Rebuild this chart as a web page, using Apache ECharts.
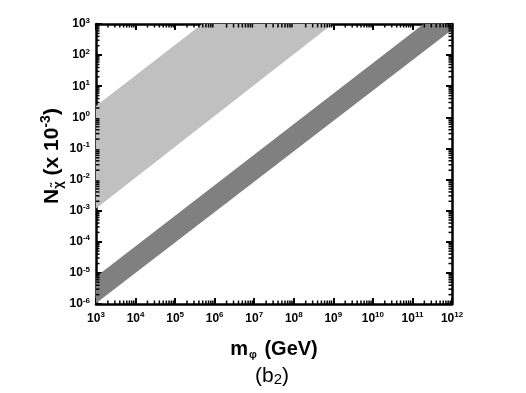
<!DOCTYPE html>
<html>
<head>
<meta charset="utf-8">
<script src="https://cdn.jsdelivr.net/npm/echarts@6/dist/echarts.min.js"></script>
<style>html,body{margin:0;padding:0;background:#fff}#c{width:526px;height:393px}</style>
</head>
<body>
<div id="c"></div>
<script>
// Axis ranges (log scale)
const xRange = [1e3, 1e12];
const yRange = [1e-6, 1e3];
// Tick label exponents
const xTickExponents = [3, 4, 5, 6, 7, 8, 9, 10, 11, 12];
const yTickExponents = [-6, -5, -4, -3, -2, -1, 0, 1, 2, 3];
// Band edges [m_phi (GeV), N (x 10^-3)]
const lightBandLower = [[1e3, 1.18e-3], [9.5e8, 1e3]];
const lightBandUpper = [[1e3, 2.3], [4.8e5, 1e3]];
const darkBandLower = [[1e3, 1.05e-6], [1e12, 6.5e2]];
const darkBandUpper = [[1e3, 7.5e-6], [1.9e11, 1e3], [1e12, 1e3]];
const bandColors = ['#c0c0c0', '#808080'];

const FONT = "'Liberation Sans', Arial, sans-serif";
const chart = echarts.init(document.getElementById('c'), null, {renderer: 'canvas'});

function bandSeries(lower, upper, color) {
  const poly = lower.concat(upper.slice().reverse());
  return {
    type: 'custom',
    coordinateSystem: 'cartesian2d',
    clip: true,
    silent: true,
    data: poly,
    renderItem: function (params, api) {
      if (params.dataIndex !== 0) return null;
      return {
        type: 'polygon',
        shape: {points: poly.map(p => api.coord(p))},
        style: {fill: color, stroke: null}
      };
    }
  };
}

// minor ticks at 2..9 of each decade, drawn via the axis scale
const minorX = [], minorY = [];
for (let e = xTickExponents[0]; e < xTickExponents[xTickExponents.length - 1]; e++)
  for (let k = 2; k <= 9; k++) minorX.push(k * Math.pow(10, e));
for (let e = yTickExponents[0]; e < yTickExponents[yTickExponents.length - 1]; e++)
  for (let k = 2; k <= 9; k++) minorY.push(k * Math.pow(10, e));

const minorSeries = {
  type: 'custom',
  coordinateSystem: 'cartesian2d',
  clip: false,
  silent: true,
  data: [[xRange[0], yRange[0]]],
  z: 10,
  renderItem: function (params, api) {
    const L = 3.5;
    const children = [];
    const style = {stroke: '#000', lineWidth: 1.5};
    minorX.forEach(v => {
      const b = api.coord([v, yRange[0]]);
      const t = api.coord([v, yRange[1]]);
      children.push({type: 'line', shape: {x1: b[0], y1: b[1], x2: b[0], y2: b[1] - L}, style});
      children.push({type: 'line', shape: {x1: t[0], y1: t[1], x2: t[0], y2: t[1] + L}, style});
    });
    minorY.forEach(v => {
      const l = api.coord([xRange[0], v]);
      const r = api.coord([xRange[1], v]);
      children.push({type: 'line', shape: {x1: l[0], y1: l[1], x2: l[0] + L, y2: l[1]}, style});
      children.push({type: 'line', shape: {x1: r[0], y1: r[1], x2: r[0] - L, y2: r[1]}, style});
    });
    return {type: 'group', children};
  }
};

function expLabel(v) {
  const e = Math.round(Math.log10(v));
  return '{b|10}{s|' + e + '}';
}
const labelRich = {
  b: {fontSize: 12, fontWeight: 'bold', fontFamily: FONT, lineHeight: 15, color: '#000'},
  s: {fontSize: 8, fontWeight: 'bold', fontFamily: FONT, lineHeight: 8, verticalAlign: 'top', color: '#000'}
};
const axisLineStyle = {color: '#000', width: 2.5};

function makeAxis(pos, showLabel, range, isX) {
  return {
    type: 'log',
    logBase: 10,
    position: pos,
    min: range[0],
    max: range[1],
    splitNumber: 9,
    axisLine: {show: true, onZero: false, lineStyle: axisLineStyle},
    axisTick: {show: true, inside: true, length: 6, lineStyle: {color: '#000', width: 2}},
    minorTick: {show: false},
    splitLine: {show: false},
    axisLabel: {
      show: showLabel,
      formatter: expLabel,
      rich: labelRich,
      margin: isX ? 7 : 6,
      showMinLabel: true,
      showMaxLabel: true
    }
  };
}

chart.setOption({
  animation: false,
  backgroundColor: '#fff',
  grid: {left: 96, top: 24, width: 356, height: 280, containLabel: false},
  xAxis: [makeAxis('bottom', true, xRange, true), makeAxis('top', false, xRange, true)],
  yAxis: [makeAxis('left', true, yRange, false), makeAxis('right', false, yRange, false)],
  series: [
    bandSeries(lightBandLower, lightBandUpper, bandColors[0]),
    bandSeries(darkBandLower, darkBandUpper, bandColors[1]),
    minorSeries
  ],
  graphic: [
    {
      type: 'text', x: 52, y: 156, rotation: Math.PI / 2,
      style: {
        text: '{n|N}{sub|χ̃}{n| (x 10}{sup|-3}{n|)}',
        textAlign: 'center', textVerticalAlign: 'middle',
        rich: {
          n: {fontSize: 21, fontWeight: 'bold', fontFamily: FONT, lineHeight: 26, fill: '#000'},
          sub: {fontSize: 13, fontWeight: 'bold', fontFamily: FONT, lineHeight: 13, verticalAlign: 'bottom', fill: '#000'},
          sup: {fontSize: 14, fontWeight: 'bold', fontFamily: FONT, lineHeight: 14, verticalAlign: 'top', fill: '#000'}
        }
      }
    },
    {
      type: 'text', x: 274, y: 349,
      style: {
        text: '{n|m}{sub|φ}{n| (GeV)}',
        textAlign: 'center', textVerticalAlign: 'middle',
        rich: {
          n: {fontSize: 20, fontWeight: 'bold', fontFamily: FONT, lineHeight: 22, fill: '#000'},
          sub: {fontSize: 11, fontWeight: 'bold', fontFamily: FONT, lineHeight: 10, verticalAlign: 'bottom', padding: [0, 2, 0, 1], fill: '#000'}
        }
      }
    },
    {
      type: 'text', x: 272, y: 376,
      style: {
        text: '{n|(b}{sub|2}{n|)}',
        textAlign: 'center', textVerticalAlign: 'middle',
        rich: {
          n: {fontSize: 21, fontFamily: FONT, lineHeight: 22, fill: '#000'},
          sub: {fontSize: 15, fontFamily: FONT, lineHeight: 14, verticalAlign: 'bottom', fill: '#000'}
        }
      }
    }
  ]
});
</script>
</body>
</html>
